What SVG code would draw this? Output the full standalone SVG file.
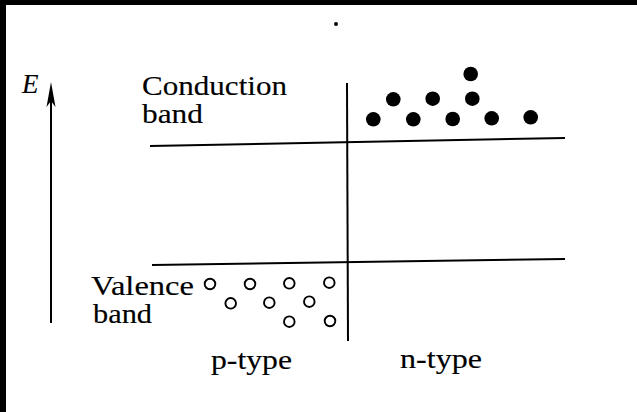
<svg xmlns="http://www.w3.org/2000/svg" width="637" height="412" viewBox="0 0 637 412">
<style>
.t{font-family:"Liberation Serif","Times New Roman",serif;font-size:27px;fill:#000;stroke:#000;stroke-width:0.15}
.ln{stroke:#000;stroke-width:2;fill:none}
.e{fill:#000}
.h{fill:none;stroke:#000;stroke-width:1.9}
</style>
<rect x="0" y="0" width="637" height="412" fill="#fff"/>
<rect x="0" y="0" width="637" height="5" fill="#000"/>
<rect x="0" y="0" width="6" height="412" fill="#000"/>
<circle cx="336" cy="24" r="2" fill="#000"/>
<g id="axis">
<line class="ln" x1="51" y1="323" x2="51" y2="98"/>
<path d="M51,82 L55.5,107 L51,101 L46.5,107 Z" fill="#000"/>
<text class="t" x="22" y="93" font-style="italic" font-size="28">E</text>
</g>
<g id="connectors">
<line class="ln" x1="150" y1="146" x2="565" y2="138"/>
<line class="ln" x1="152" y1="265" x2="565" y2="259"/>
<line class="ln" x1="347" y1="83" x2="348" y2="341"/>
</g>
<g id="conduction-label">
<text class="t" x="142" y="95" textLength="145" lengthAdjust="spacingAndGlyphs">Conduction</text>
<text class="t" x="142" y="123" textLength="61" lengthAdjust="spacingAndGlyphs">band</text>
</g>
<g id="valence-label">
<text class="t" x="91" y="295" textLength="103" lengthAdjust="spacingAndGlyphs">Valence</text>
<text class="t" x="93" y="323" textLength="59" lengthAdjust="spacingAndGlyphs">band</text>
</g>
<g id="electrons">
<circle class="e" cx="373.3" cy="119.3" r="7.3"/>
<circle class="e" cx="393.3" cy="99.3" r="7.3"/>
<circle class="e" cx="413.3" cy="119.3" r="7.3"/>
<circle class="e" cx="432.7" cy="98.7" r="7.3"/>
<circle class="e" cx="452.7" cy="119" r="7.3"/>
<circle class="e" cx="470.7" cy="74" r="7.3"/>
<circle class="e" cx="472.3" cy="98.7" r="7.3"/>
<circle class="e" cx="491.7" cy="118.3" r="7.3"/>
<circle class="e" cx="530.7" cy="117.3" r="7.3"/>
</g>
<g id="holes">
<circle class="h" cx="210" cy="284" r="5.3"/>
<circle class="h" cx="250" cy="284" r="5.3"/>
<circle class="h" cx="289.3" cy="283.3" r="5.3"/>
<circle class="h" cx="329.3" cy="282.7" r="5.3"/>
<circle class="h" cx="230.7" cy="303.3" r="5.3"/>
<circle class="h" cx="269.3" cy="302.7" r="5.3"/>
<circle class="h" cx="309.3" cy="301.7" r="5.3"/>
<circle class="h" cx="289.3" cy="321.7" r="5.3"/>
<circle class="h" cx="330" cy="321" r="5.3"/>
</g>
<g id="p-type">
<text class="t" x="211" y="369" textLength="81" lengthAdjust="spacingAndGlyphs">p-type</text>
</g>
<g id="n-type">
<text class="t" x="400" y="368" textLength="82" lengthAdjust="spacingAndGlyphs">n-type</text>
</g>
</svg>
